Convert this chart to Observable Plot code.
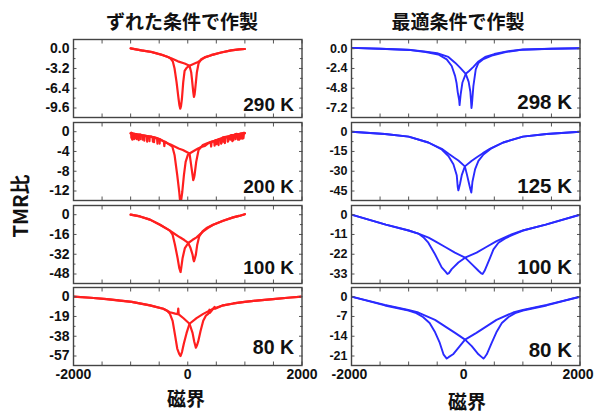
<!DOCTYPE html>
<html><head><meta charset="utf-8">
<script src="https://cdn.jsdelivr.net/npm/d3@7"></script>
<script src="https://cdn.jsdelivr.net/npm/@observablehq/plot@0.6"></script>
<style>
body{margin:0;background:#fff;}
#root{position:relative;width:594px;height:412px;overflow:hidden;background:#fff;font-family:"Liberation Sans",Arial,sans-serif;}
.lbl{position:absolute;font-weight:bold;white-space:nowrap;color:#111;transform:translate(-50%,-50%);line-height:1;}
.cjk{font-family:"Noto Sans CJK JP","Liberation Sans",sans-serif;}
.pane{position:absolute;}
.paneL g[aria-label="y-axis tick label"]{font-size:14px !important;}
.paneR g[aria-label="y-axis tick label"]{font-size:12.5px !important;}
.pane g[aria-label="x-axis tick label"]{font-size:14px !important;}
.pane g[aria-label="y-axis tick label"] text, .pane g[aria-label="x-axis tick label"] text{font-weight:bold;}
</style></head>
<body><div id="root"></div>
<script>
// ---------- text ----------
const titleLeft = "ずれた条件で作製";
const titleRight = "最適条件で作製";
const yTitle = "TMR比";
const xTitle = "磁界";
const xTickValues = [-2000, 0, 2000];
const xTickLabels = ["-2000", "0", "2000"];
const xMinorTicks = [-2000, -1500, -1000, -500, 0, 500, 1000, 1500, 2000];

// ---------- left column (red) ----------
const temps_L = ["290 K", "200 K", "100 K", "80 K"];
const yTicks_L290 = [0, -3.2, -6.4, -9.6], yLabels_L290 = ["0.0", "-3.2", "-6.4", "-9.6"];
const yTicks_L200 = [0, -4, -8, -12], yLabels_L200 = ["0", "-4", "-8", "-12"];
const yTicks_L100 = [0, -16, -32, -48], yLabels_L100 = ["0", "-16", "-32", "-48"];
const yTicks_L80 = [0, -19, -38, -57], yLabels_L80 = ["0", "-19", "-38", "-57"];

// [field, TMR] : sweep from + to - (down) and from - to + (up)
const down_L290 = [[1000,-0.05],[900,-0.1],[760,-0.27],[585,-0.62],[411,-1.05],[300,-1.4],[236,-1.8],[180,-2.15],[119,-2.4],[31,-2.75],[-20,-3.1],[-55,-3.6],[-79,-5.4],[-102,-8.1],[-118,-9.3],[-131,-9.7],[-145,-9.2],[-161,-8.1],[-196,-5.4],[-231,-3.2],[-260,-2.1],[-300,-1.6],[-346,-1.35],[-463,-0.98],[-638,-0.54],[-812,-0.27],[-1000,0.05]];
const up_L290 = [[-1000,0.05],[-812,-0.27],[-638,-0.52],[-463,-0.95],[-346,-1.35],[-290,-1.55],[-172,-2.05],[-55,-2.4],[31,-2.75],[60,-3.8],[73,-4.9],[96,-7.0],[108,-7.8],[120,-7.4],[131,-6.5],[160,-3.8],[189,-2.4],[236,-1.7],[294,-1.4],[411,-1.05],[585,-0.62],[760,-0.27],[900,-0.12],[1000,-0.05]];

const down_L200 = [[1000,-0.3],[985,-0.2],[975,-1.3],[968,-0.3],[940,-0.4],[930,-1.4],[924,-0.4],[900,-0.5],[880,-1.6],[875,-0.5],[850,-0.45],[840,-1.2],[835,-0.5],[820,-0.6],[800,-1.7],[795,-0.7],[760,-0.7],[745,-1.6],[740,-0.8],[720,-0.9],[700,-2.0],[695,-1.0],[640,-1.1],[625,-2.0],[620,-1.1],[600,-1.3],[585,-2.4],[578,-1.4],[520,-1.6],[505,-2.5],[500,-1.7],[480,-1.8],[470,-2.8],[462,-1.9],[411,-2.0],[340,-2.5],[300,-2.9],[236,-3.1],[180,-3.4],[119,-3.8],[31,-4.4],[2,-4.7],[-37,-6.1],[-67,-8.8],[-96,-12.2],[-112,-13.6],[-125,-14.2],[-138,-13.6],[-149,-12.2],[-184,-8.8],[-231,-4.7],[-270,-3.0],[-346,-2.4],[-400,-2.0],[-410,-2.9],[-418,-2.0],[-463,-1.7],[-520,-1.4],[-530,-2.4],[-538,-1.3],[-600,-1.1],[-610,-2.0],[-616,-1.1],[-638,-1.0],[-700,-0.9],[-710,-2.0],[-716,-0.9],[-780,-0.75],[-790,-1.6],[-795,-0.75],[-812,-0.7],[-850,-0.6],[-858,-1.7],[-864,-0.6],[-900,-0.5],[-908,-1.3],[-913,-0.5],[-930,-0.45],[-940,-1.5],[-946,-0.4],[-970,-0.3],[-978,-1.4],[-983,-0.3],[-1000,-0.33]];
const up_L200 = [[-1000,-0.33],[-990,-0.2],[-985,-1.2],[-980,-0.3],[-975,-0.4],[-970,-1.6],[-965,-0.4],[-920,-0.5],[-915,-1.3],[-910,-0.5],[-900,-0.55],[-890,-1.5],[-884,-0.6],[-830,-0.6],[-825,-1.5],[-820,-0.6],[-812,-0.7],[-770,-0.8],[-760,-1.8],[-754,-0.8],[-680,-1.0],[-670,-1.9],[-665,-1.0],[-638,-1.0],[-600,-1.2],[-590,-2.1],[-584,-1.2],[-500,-1.5],[-492,-2.4],[-488,-1.5],[-463,-1.7],[-346,-2.4],[-300,-2.6],[-231,-3.0],[-160,-3.4],[-85,-3.7],[31,-4.4],[60,-6.8],[84,-8.8],[96,-9.8],[108,-9.4],[119,-8.8],[148,-6.1],[189,-3.7],[265,-2.7],[350,-2.3],[400,-2.1],[410,-3.0],[417,-2.1],[500,-1.7],[540,-2.7],[546,-1.6],[580,-1.4],[588,-2.3],[594,-1.4],[620,-1.3],[650,-2.3],[656,-1.2],[700,-1.0],[708,-1.9],[714,-1.0],[760,-0.8],[780,-1.9],[786,-0.75],[830,-0.6],[838,-1.5],[844,-0.6],[880,-0.5],[900,-1.6],[906,-0.45],[950,-0.35],[958,-1.4],[963,-0.3],[1000,-0.3]];

const down_L100 = [[1000,0.4],[900,-1.0],[795,-2.2],[620,-4.9],[445,-8.1],[350,-10.8],[271,-13.5],[154,-18.3],[80,-20.5],[9,-22.9],[-50,-27],[-90,-35],[-114,-43],[-125,-46.4],[-136,-45],[-149,-43],[-178,-35],[-224,-24.3],[-265,-16.2],[-312,-12.9],[-341,-12.1],[-486,-8.1],[-661,-4.0],[-836,-1.4],[-1000,0]];
const up_L100 = [[-1000,0],[-836,-1.4],[-661,-4.0],[-486,-8.1],[-341,-12.1],[-253,-14.8],[-137,-18.3],[-60,-20.5],[9,-22.9],[49,-27],[84,-32.3],[100,-36.5],[108,-37.7],[118,-36.5],[142,-32.3],[166,-24.3],[201,-17.5],[259,-13.5],[329,-10.8],[445,-8.1],[620,-4.9],[795,-2.2],[900,-1.0],[1000,0.4]];

const down_L80 = [[2000,0],[1800,-0.8],[1493,-2.3],[1250,-3.5],[998,-5],[800,-6.5],[620,-8.3],[445,-11.6],[271,-16.5],[154,-20.6],[31,-26],[-20,-34.8],[-67,-44.8],[-100,-53],[-125,-57],[-150,-55],[-184,-49.8],[-224,-36.4],[-265,-23.2],[-312,-16.5],[-360,-13.5],[-428,-11.6],[-661,-8.3],[-981,-5],[-1200,-3.8],[-1418,-2.3],[-1700,-1.0],[-2000,0]];
const up_L80 = [[-2000,0],[-1700,-1.0],[-1418,-2.3],[-1200,-3.6],[-981,-5],[-661,-8.3],[-428,-11.6],[-312,-14.9],[-220,-16.3],[-175,-16.8],[-166,-11.5],[-158,-16.9],[-79,-20.5],[31,-26],[84,-34.8],[113,-43],[142,-49],[160,-47],[183,-43],[224,-33],[271,-23.2],[317,-18.2],[358,-16.5],[380,-12.5],[388,-15.5],[445,-11.6],[470,-9.8],[478,-11.5],[620,-8.3],[800,-6.5],[998,-5],[1250,-3.5],[1493,-2.3],[1800,-0.8],[2000,0]];

// ---------- right column (blue) ----------
const temps_R = ["298 K", "125 K", "100 K", "80 K"];
const yTicks_R298 = [0, -2.4, -4.8, -7.2], yLabels_R298 = ["0.0", "-2.4", "-4.8", "-7.2"];
const yTicks_R125 = [0, -15, -30, -45], yLabels_R125 = ["0", "-15", "-30", "-45"];
const yTicks_R100 = [0, -11, -22, -33], yLabels_R100 = ["0", "-11", "-22", "-33"];
const yTicks_R80 = [0, -7, -14, -21], yLabels_R80 = ["0", "-7", "-14", "-21"];

const down_R298 = [[2000,0.05],[1500,0],[1000,-0.1],[700,-0.35],[500,-0.65],[339,-1.0],[222,-1.55],[134,-2.2],[58,-2.7],[0,-3.05],[-58,-4.1],[-88,-5.5],[-100,-6.3],[-108,-6.84],[-116,-6.2],[-140,-5.3],[-160,-4.2],[-187,-3.3],[-246,-2.1],[-333,-1.3],[-480,-0.7],[-700,-0.4],[-1000,-0.15],[-1500,0],[-2000,0.1]];
const up_R298 = [[-2000,0.1],[-1500,0],[-1000,-0.12],[-700,-0.35],[-500,-0.55],[-304,-1.0],[-187,-1.7],[-100,-2.3],[0,-3.05],[50,-4.0],[80,-5.2],[92,-6.3],[100,-7.2],[108,-6.8],[134,-4.5],[175,-2.5],[222,-1.73],[310,-1.25],[456,-0.85],[700,-0.4],[1000,-0.12],[1500,0],[2000,0.05]];

const down_R125 = [[2000,0],[1415,-1.7],[1000,-3.7],[655,-8.2],[421,-13],[300,-16.3],[200,-19.2],[100,-22.2],[-15,-26.3],[-70,-33],[-100,-39.5],[-118,-42.8],[-130,-44.5],[-140,-42],[-158,-33],[-216,-24.7],[-304,-18.5],[-420,-13.5],[-655,-8.2],[-1000,-3.7],[-1415,-1.7],[-2000,0]];
const up_R125 = [[-2000,0],[-1415,-1.7],[-1000,-3.7],[-655,-8.2],[-420,-13],[-300,-16.8],[-200,-19.8],[-129,-21.8],[-15,-26.3],[18,-32],[58,-39.5],[80,-43.5],[97,-46.2],[106,-43],[117,-38],[164,-28.4],[222,-22.2],[310,-17.3],[456,-12.4],[655,-8.2],[1000,-3.7],[1415,-1.7],[2000,0]];

const down_R100 = [[2000,0],[1400,-5.5],[1000,-8.8],[800,-11.0],[540,-14.7],[360,-18],[190,-21.1],[-12,-23.9],[-129,-26.6],[-246,-30.3],[-295,-32.5],[-322,-33],[-350,-31.8],[-421,-29.3],[-538,-22],[-655,-15.6],[-743,-12.5],[-830,-10.5],[-1000,-8.8],[-1400,-5.5],[-2000,0]];
const up_R100 = [[-2000,0],[-1400,-5.5],[-1000,-8.8],[-830,-10.5],[-650,-12.8],[-540,-14.7],[-360,-18],[-190,-21.1],[-12,-23.9],[105,-27.5],[222,-31.2],[270,-32.6],[295,-33],[330,-31.2],[427,-23.9],[485,-19.3],[573,-15.6],[690,-13.2],[800,-11.5],[1000,-8.8],[1400,-5.5],[2000,0]];

const down_R80 = [[2000,0],[1415,-2.9],[1000,-4.7],[830,-5.6],[538,-8.2],[363,-10.5],[187,-12.8],[-12,-15.2],[-105,-17.5],[-222,-20.4],[-300,-21.4],[-333,-21.9],[-360,-21.2],[-390,-20.4],[-456,-16.3],[-544,-12.3],[-632,-9.3],[-749,-7.2],[-865,-5.8],[-1000,-4.9],[-1415,-3.1],[-2000,0]];
const up_R80 = [[-2000,0],[-1415,-2.9],[-1006,-4.7],[-830,-5.6],[-538,-8.2],[-363,-10.5],[-187,-12.8],[-12,-15.2],[105,-17.5],[222,-20.4],[280,-21.4],[310,-21.9],[340,-21.2],[368,-20.4],[456,-16.3],[544,-12.3],[632,-9.3],[749,-7.2],[865,-5.8],[1000,-4.9],[1415,-3.1],[2000,0]];

// ---------- layout ----------
const RED = "#ff1f1f", BLUE = "#2a2aff";
const colX = [72.5, 351], frameW = 228.5;
const rowY = [39, 122, 204.5, 287], frameH = 78;
const M = {l: 45, r: 14, t: 6, b: 30};

const panels = [
  {col:0,row:0,ticks:yTicks_L290,labels:yLabels_L290,temp:temps_L[0],down:down_L290,up:up_L290,color:RED,tfs:19,tdy:-7},
  {col:0,row:1,ticks:yTicks_L200,labels:yLabels_L200,temp:temps_L[1],down:down_L200,up:up_L200,color:RED,tfs:19,tdy:-8},
  {col:0,row:2,ticks:yTicks_L100,labels:yLabels_L100,temp:temps_L[2],down:down_L100,up:up_L100,color:RED,tfs:19,tdy:-10},
  {col:0,row:3,ticks:yTicks_L80,labels:yLabels_L80,temp:temps_L[3],down:down_L80,up:up_L80,color:RED,tfs:19.5,tdy:-12},
  {col:1,row:0,ticks:yTicks_R298,labels:yLabels_R298,temp:temps_R[0],down:down_R298,up:up_R298,color:BLUE,tfs:20.5,tdy:-9},
  {col:1,row:1,ticks:yTicks_R125,labels:yLabels_R125,temp:temps_R[1],down:down_R125,up:up_R125,color:BLUE,tfs:20.5,tdy:-8},
  {col:1,row:2,ticks:yTicks_R100,labels:yLabels_R100,temp:temps_R[2],down:down_R100,up:up_R100,color:BLUE,tfs:20.5,tdy:-10},
  {col:1,row:3,ticks:yTicks_R80,labels:yLabels_R80,temp:temps_R[3],down:down_R80,up:up_R80,color:BLUE,tfs:20.5,tdy:-9}
];

const root = document.getElementById("root");

function addLabel(text, x, y, size, cls, rotate) {
  const d = document.createElement("div");
  d.className = "lbl " + (cls || "");
  d.textContent = text;
  d.style.left = x + "px";
  d.style.top = y + "px";
  d.style.fontSize = size + "px";
  if (rotate) d.style.transform = "translate(-50%,-50%) rotate(-90deg)";
  root.appendChild(d);
}

for (const p of panels) {
  const L = Math.abs(p.ticks[p.ticks.length - 1]);
  const step = L / (p.ticks.length - 1);
  const minor = p.ticks.slice(0, -1).map(t => t - step / 2);
  const labelOf = new Map(p.ticks.map((t, i) => [t, p.labels[i]]));
  const xLabelOf = new Map(xTickValues.map((t, i) => [t, xTickLabels[i]]));
  const tickColor = "#555";
  const sw = p.color === RED ? 2.2 : 1.9;
  const marks = [
    Plot.line(p.down, {x: d => d[0], y: d => d[1], stroke: p.color, strokeWidth: sw, clip: true}),
    Plot.line(p.up, {x: d => d[0], y: d => d[1], stroke: p.color, strokeWidth: sw, clip: true}),
    Plot.axisY(p.ticks, {anchor: "left", tickSize: 3.5, dx: 3.5, tickFormat: () => "", stroke: tickColor, ariaLabel: "tick"}),
    Plot.axisY(p.ticks, {anchor: "right", tickSize: 3.5, dx: -3.5, tickFormat: () => "", stroke: tickColor, ariaLabel: "tick"}),
    Plot.axisY(minor, {anchor: "left", tickSize: 2.5, dx: 2.5, tickFormat: () => "", stroke: tickColor, ariaLabel: "tick"}),
    Plot.axisY(minor, {anchor: "right", tickSize: 2.5, dx: -2.5, tickFormat: () => "", stroke: tickColor, ariaLabel: "tick"}),
    Plot.axisX(xMinorTicks, {anchor: "bottom", tickSize: 3.5, dy: -3.5, tickFormat: () => "", stroke: tickColor, ariaLabel: "tick"}),
    Plot.axisX(xMinorTicks, {anchor: "top", tickSize: 3.5, dy: 3.5, tickFormat: () => "", stroke: tickColor, ariaLabel: "tick"}),
    Plot.axisY(p.ticks, {anchor: "left", tickSize: 0, tickPadding: 4, tickFormat: d => labelOf.get(d), fill: "#111"}),
    Plot.frame({stroke: "#444", strokeWidth: 1.4}),
    Plot.text([p.temp], {frameAnchor: "bottom-right", dx: -8, dy: p.tdy, textAnchor: "end", lineAnchor: "bottom", fontSize: p.tfs, fontWeight: "bold", fill: "#111"})
  ];
  if (p.row === 3) {
    marks.push(Plot.axisX(xTickValues, {anchor: "bottom", tickSize: 0, tickPadding: 4, dx: p.col === 1 ? -2 : 0, tickFormat: d => xLabelOf.get(d), fill: "#111"}));
  }
  const chart = Plot.plot({
    width: frameW + M.l + M.r,
    height: frameH + M.t + M.b,
    marginLeft: M.l, marginRight: M.r, marginTop: M.t, marginBottom: M.b,
    x: {domain: [-2000, 2000], axis: null},
    y: {domain: [-1.16 * L, 0.155 * L], axis: null},
    style: {background: "transparent", overflow: "visible", maxWidth: "none", fontFamily: "'Liberation Sans', Arial, sans-serif", fontWeight: "bold"},
    marks
  });
  const wrap = document.createElement("div");
  wrap.className = "pane " + (p.col === 0 ? "paneL" : "paneR");
  wrap.style.left = (colX[p.col] - M.l) + "px";
  wrap.style.top = (rowY[p.row] - M.t) + "px";
  wrap.appendChild(chart);
  root.appendChild(wrap);
}

addLabel(titleLeft, 182, 20, 19, "cjk");
addLabel(titleRight, 458, 20, 19, "cjk");
addLabel(yTitle, 20, 206, 20, "cjk", true);
addLabel(xTitle, 186, 397, 19, "cjk");
addLabel(xTitle, 467, 400, 19, "cjk");
</script>
</body></html>
